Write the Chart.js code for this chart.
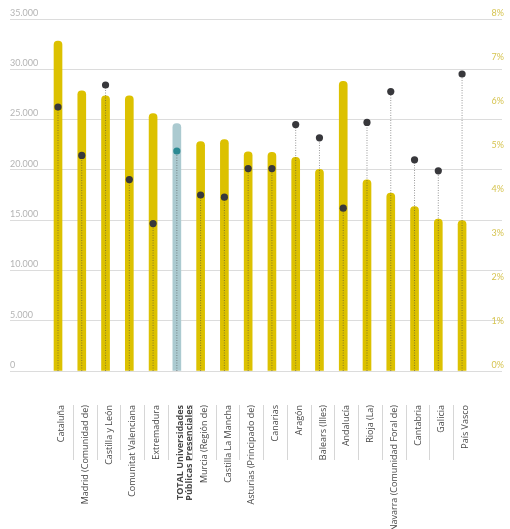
<!DOCTYPE html>
<html>
<head>
<meta charset="utf-8">
<script src="https://cdn.jsdelivr.net/npm/chart.js@4/dist/chart.umd.min.js"></script>
<style>
  html, body { margin: 0; padding: 0; background: #fff; }
</style>
</head>
<body>
<canvas id="uniChart" width="510" height="529"></canvas>
<script>
const categories = [
	'Cataluña',
	'Madrid (Comunidad de)',
	'Castilla y León',
	'Comunitat Valenciana',
	'Extremadura',
	['TOTAL Universidades', 'Públicas Presenciales'],
	'Murcia (Región de)',
	'Castilla La Mancha',
	'Asturias (Principado de)',
	'Canarias',
	'Aragón',
	'Balears (Illes)',
	'Andalucía',
	'Rioja (La)',
	'Navarra (Comunidad Foral de)',
	'Cantabria',
	'Galicia',
	'País Vasco'
];
const totalIndex = 5;

// left axis values (bars)
const barValues = [32800, 27850, 27350, 27350, 25600, 24600, 22800, 23000, 21800,
	21750, 21250, 20050, 28800, 19000, 17700, 16350, 15100, 14950];

// right axis values (dots), in %
const dotPercents = [6.0, 4.9, 6.5, 4.35, 3.35, 5.0, 4.0, 3.95, 4.6,
	4.6, 5.6, 5.3, 3.7, 5.65, 6.35, 4.8, 4.55, 6.75];

const leftTicks = [0, 5000, 10000, 15000, 20000, 25000, 30000, 35000];
const rightTicks = [0, 1, 2, 3, 4, 5, 6, 7, 8];

const yellow = '#dcc100';
const totalBlue = '#abcad0';
const dotDark = '#38383c';
const dotTeal = '#2c8a93';

const fmt = v => String(v).replace(/\B(?=(\d{3})+(?!\d))/g, '.');

const barData = barValues.map((v, i) => ({x: i, y: v}));
const dotData = dotPercents.map((p, i) => ({x: i, y: p}));
const stemData = [];
dotPercents.forEach((p, i) => {
	stemData.push({x: i, y: 0}, {x: i, y: p}, {x: i, y: null});
});

const xMin = -2.02, xMax = 18.68, labelShift = 0.15;

new Chart(document.getElementById('uniChart'), {
	type: 'bar',
	data: {
		datasets: [{
			type: 'bar',
			data: barData,
			xAxisID: 'x',
			yAxisID: 'y',
			backgroundColor: barValues.map((v, i) => i === totalIndex ? totalBlue : yellow),
			barThickness: 8,
			borderRadius: 4,
			borderSkipped: 'start',
			order: 3
		}, {
			type: 'line',
			data: stemData,
			xAxisID: 'x',
			yAxisID: 'y1',
			borderColor: 'rgba(70,70,70,0.55)',
			borderWidth: 1,
			borderDash: [1, 1.5],
			pointRadius: 0,
			spanGaps: false,
			order: 2
		}, {
			type: 'line',
			data: dotData,
			xAxisID: 'x',
			yAxisID: 'y1',
			showLine: false,
			pointRadius: 3.6,
			pointBorderWidth: 0,
			pointBackgroundColor: dotPercents.map((p, i) => i === totalIndex ? dotTeal : dotDark),
			order: 1
		}]
	},
	options: {
		responsive: false,
		animation: false,
		layout: {padding: {left: 10, right: 8, top: 19, bottom: 0}},
		plugins: {legend: {display: false}, tooltip: {enabled: false}},
		scales: {
			x: {
				type: 'linear',
				display: false,
				min: xMin,
				max: xMax,
				offset: false,
				grid: {offset: false}
			},
			xl: {
				type: 'linear',
				position: 'bottom',
				min: xMin - labelShift,
				max: xMax - labelShift,
				offset: false,
				border: {display: false},
				afterBuildTicks: s => { s.ticks = categories.map((c, i) => ({value: i})); },
				afterFit: s => { s.height = 158; },
				grid: {
					offset: true,
					drawOnChartArea: false,
					tickLength: 89,
					tickBorderDash: [0, 34, 55, 200],
					tickWidth: 1,
					tickColor: ctx => (ctx.index > 0 && ctx.index < categories.length) ? '#d6d6d6' : 'rgba(0,0,0,0)'
				},
				ticks: {
					autoSkip: false,
					minRotation: 90,
					maxRotation: 90,
					padding: -55,
					color: '#484848',
					font: ctx => ({family: 'Open Sans', size: 9, weight: ctx.index === totalIndex ? 'bold' : 'normal', lineHeight: 1.0}),
					callback: v => categories[v]
				}
			},
			y: {
				position: 'left',
				min: 0,
				max: 35000,
				afterBuildTicks: s => { s.ticks = leftTicks.map(v => ({value: v})); },
				afterFit: s => { s.width = 0; },
				border: {display: false},
				grid: {color: '#dcdcdc', lineWidth: 1, drawTicks: false},
				ticks: {
					mirror: true,
					padding: 0,
					labelOffset: -6,
					color: '#b4b4b4',
					font: {family: 'Lato', size: 9},
					callback: v => fmt(v)
				}
			},
			y1: {
				position: 'right',
				min: 0,
				max: 8,
				afterBuildTicks: s => { s.ticks = rightTicks.map(v => ({value: v})); },
				afterFit: s => { s.width = 0; },
				border: {display: false},
				grid: {display: false, drawTicks: false},
				ticks: {
					mirror: true,
					padding: 2,
					labelOffset: -6,
					color: '#d6c450',
					font: {family: 'Lato', size: 9},
					callback: v => v + '%'
				}
			}
		}
	}
});
</script>
</body>
</html>
